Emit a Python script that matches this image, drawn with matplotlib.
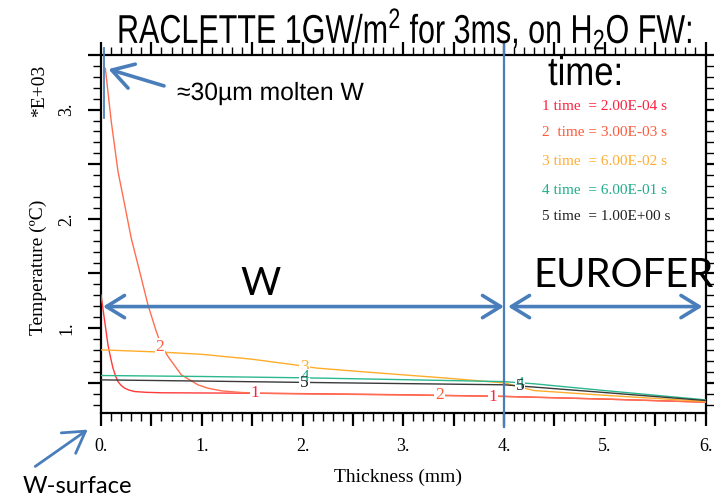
import numpy as np
import matplotlib
matplotlib.use("Agg")
import matplotlib.pyplot as plt
from matplotlib.patheffects import AbstractPathEffect
from matplotlib.transforms import Affine2D
from matplotlib.patches import FancyArrowPatch
from matplotlib.ticker import FixedLocator, MultipleLocator, FuncFormatter

# ---------------- data ----------------
x1 = [0, 0.037, 0.069, 0.095, 0.119, 0.145, 0.168, 0.2, 0.235, 0.28, 0.334, 0.45, 0.60, 1.0, 1.5, 2.0, 3.0, 4.0, 5.0, 6.0]
T1 = [1304, 1060, 847, 730, 633, 560, 511, 475, 450, 432, 419, 412, 408, 406, 404, 400, 390, 375, 350, 322]

x2 = [0.043, 0.102, 0.169, 0.235, 0.30, 0.384, 0.466, 0.549, 0.60, 0.665, 0.797, 0.962, 1.06, 1.2, 1.4, 1.6, 2.0, 3.0, 4.0, 5.0, 6.0]
T2 = [3378, 2890, 2432, 2128, 1823, 1517, 1213, 968, 840, 740, 572, 481, 450, 425, 410, 403, 398, 388, 374, 350, 322]

x3 = [0, 0.6, 1.0, 1.5, 1.92, 2.14, 2.6, 3.0, 3.43, 4.0, 4.3, 5.0, 6.0]
T3 = [801, 780, 760, 715, 664, 634, 600, 572, 542, 498, 428, 385, 328]

x4 = [0, 1, 2, 3, 4, 4.3, 5, 6]
T4 = [566, 557, 545, 528, 510, 490, 428, 343]

x5 = [0, 1, 2, 3, 4, 4.3, 5, 6]
T5 = [526, 515, 503, 492, 481, 460, 410, 337]

series_x = [x1, x2, x3, x4, x5]
series_T = [T1, T2, T3, T4, T5]
curve_ids = ["1", "2", "3", "4", "5"]
legend_texts = ["1 time  = 2.00E-04 s", "2  time = 3.00E-03 s", "3 time  = 6.00E-02 s",
                "4 time  = 6.00E-01 s", "5 time  = 1.00E+00 s"]
# label positions on curves (thickness, temperature)
curve_label_pos = {
    "1": [(1.53, 405), (3.89, 372)],
    "2": [(0.585, 831), (3.36, 385)],
    "3": [(2.02, 648), (4.16, 458)],
    "4": [(2.02, 548), (4.16, 487)],
    "5": [(2.02, 500), (4.16, 474)],
}
xticks_major = np.arange(0, 6.01, 0.5)
yticks_major = np.arange(500, 3501, 500)

# ---------------- styles ----------------
line_colors = ["#ff3a3a", "#ff6e50", "#ffac2a", "#2cb88e", "#3a3a3a"]
text_colors = ["#ff2040", "#ff5a3a", "#ffae33", "#1fae8a", "#222222"]
blue = "#4a7ebb"
sans = "Liberation Sans"
serif = "Liberation Serif"
calib = "Lato"

plt.rcParams["mathtext.fontset"] = "custom"
plt.rcParams["mathtext.rm"] = sans
plt.rcParams["mathtext.it"] = sans
plt.rcParams["mathtext.bf"] = sans


class Condense(AbstractPathEffect):
    """Horizontally compress glyphs about the text anchor (narrow-font look)."""
    def __init__(self, text, sx):
        super().__init__()
        self.text = text
        self.sx = sx

    def draw_path(self, renderer, gc, tpath, affine, rgbFace=None):
        x0 = self.text.get_transform().transform(self.text.get_position())[0]
        a = affine + Affine2D().translate(-x0, 0).scale(self.sx, 1).translate(x0, 0)
        renderer.draw_path(gc, tpath, a, rgbFace)


W, H = 714, 498
fig = plt.figure(figsize=(W / 100, H / 100), dpi=100)
fig.patch.set_facecolor("white")

L, R, T_, B = 101, 705.5, 55, 413.3
ax = fig.add_axes([L / W, 1 - B / H, (R - L) / W, (B - T_) / H])
ax.set_xlim(0, 6)
ax.set_ylim(220, 3500)

for xs, ts, c in zip(series_x, series_T, line_colors):
    ax.plot(xs, ts, color=c, lw=1.0, zorder=3)

for k, (cid, c) in enumerate(zip(curve_ids, text_colors)):
    for (xx, yy) in curve_label_pos[cid]:
        ax.text(xx, yy, cid, color=c, fontsize=12.5, family=serif, ha="center", va="center", zorder=5 + k * 0.1,
                bbox=dict(facecolor="white", edgecolor="none", pad=0.6) if cid not in ("5",) else None)

# spines/ticks
for s in ax.spines.values():
    s.set_linewidth(1.6)
ax.xaxis.set_major_locator(FixedLocator(xticks_major))
ax.xaxis.set_minor_locator(MultipleLocator(0.1))
ax.yaxis.set_major_locator(FixedLocator(yticks_major))
ax.yaxis.set_minor_locator(MultipleLocator(100))
ax.xaxis.set_major_formatter(FuncFormatter(lambda v, p: f"{int(round(v))}." if abs(v - round(v)) < 1e-6 else ""))
ax.yaxis.set_major_formatter(FuncFormatter(lambda v, p: f"{int(round(v/1000))}." if abs(v % 1000) < 1e-6 else ""))
ax.tick_params(which="major", direction="out", length=9.5, width=1.6, top=True, right=True,
               labelsize=13, pad=8.5)
ax.tick_params(which="minor", direction="out", length=5.8, width=1.0, top=True, right=True)
ax.tick_params(axis="y", which="major", labelrotation=90, pad=9)
for lbl in ax.get_xticklabels() + ax.get_yticklabels():
    lbl.set_family(serif)
for lbl in ax.get_yticklabels():
    lbl.set_va("center")

ax.set_xlabel("Thickness (mm)", family=serif, fontsize=14)
ax.xaxis.set_label_coords((398 - L) / (R - L), (B - 477) / (B - T_))
ax.xaxis.label.set_va("center")
ax.set_ylabel("Temperature (ºC)", family=serif, fontsize=14)
ax.yaxis.set_label_coords((38 - L) / (R - L), (B - 267) / (B - T_))
ax.yaxis.label.set_va("center")
ax.yaxis.label.set_ha("center")


def fx(x):
    return x / W


def fy(y):
    return 1 - y / H


fig.text(fx(39.5), fy(91), "*E+03", family=serif, fontsize=14, rotation=90, ha="center", va="center")

renderer = fig.canvas.get_renderer()


def fit(t, width_px):
    bb = t.get_window_extent(renderer)
    t.set_fontsize(t.get_fontsize() * width_px / bb.width)


def condense(t, width_px):
    bb = t.get_window_extent(renderer)
    t.set_path_effects([Condense(t, width_px / bb.width)])


# title (narrow look)
tt = fig.text(fx(117), fy(43), r"RACLETTE 1GW/m$^{2}$ for 3ms, on H$_{2}$O FW:", family=sans,
              fontsize=29, ha="left", va="baseline")
condense(tt, 575)

tm = fig.text(fx(548), fy(85), "time:", family=sans, fontsize=29, ha="left", va="baseline")
condense(tm, 75)

for i, (txt, c) in enumerate(zip(legend_texts, text_colors)):
    yy = [107, 133, 161, 190, 217][i]
    fig.text(fx(542), fy(yy), txt, color=c, family=serif, fontsize=11, ha="left", va="center")

mw = fig.text(fx(177), fy(100), "≈30µm molten W", family=sans, fontsize=18, ha="left", va="baseline")
condense(mw, 187)

fig.text(fx(240), fy(295), "W", family=calib, fontsize=28, ha="left", va="baseline")
eu = fig.text(fx(533), fy(287), "EUROFER", family=calib, fontsize=28, ha="left", va="baseline")
fit(eu, 180)
ws = fig.text(fx(23), fy(493), "W-surface", family=calib, fontsize=20, ha="left", va="baseline")
fit(ws, 110)

# blue annotations
ax.plot([4, 4], [95, 3600], color=blue, lw=1.6, clip_on=False, zorder=6)
ax.plot([0.033, 0.033], [2924, 3564], color=blue, lw=1.3, clip_on=False, zorder=6)

arrow_kw = dict(color=blue, lw=2.6, shrinkA=0, shrinkB=0, mutation_scale=10)
ax.annotate("", xy=(0.02, 1197), xytext=(4.0, 1197),
            arrowprops=dict(arrowstyle="<->,head_length=1.3,head_width=0.8", **arrow_kw), zorder=7)
ax.annotate("", xy=(4.04, 1197), xytext=(5.97, 1197),
            arrowprops=dict(arrowstyle="<->,head_length=1.3,head_width=0.8", **arrow_kw), zorder=7)
fig.patches.append(FancyArrowPatch(
    (166.7, H - 86.7), (105.7, H - 68.3), transform=None,
    arrowstyle="->,head_length=1.5,head_width=0.9", color=blue, lw=2.6, mutation_scale=10))
fig.patches.append(FancyArrowPatch(
    (33, H - 468), (90, H - 428), transform=None,
    arrowstyle="->,head_length=1.5,head_width=0.9", color=blue, lw=2.0, mutation_scale=10))

fig.savefig("out.png", dpi=100, facecolor="white")
